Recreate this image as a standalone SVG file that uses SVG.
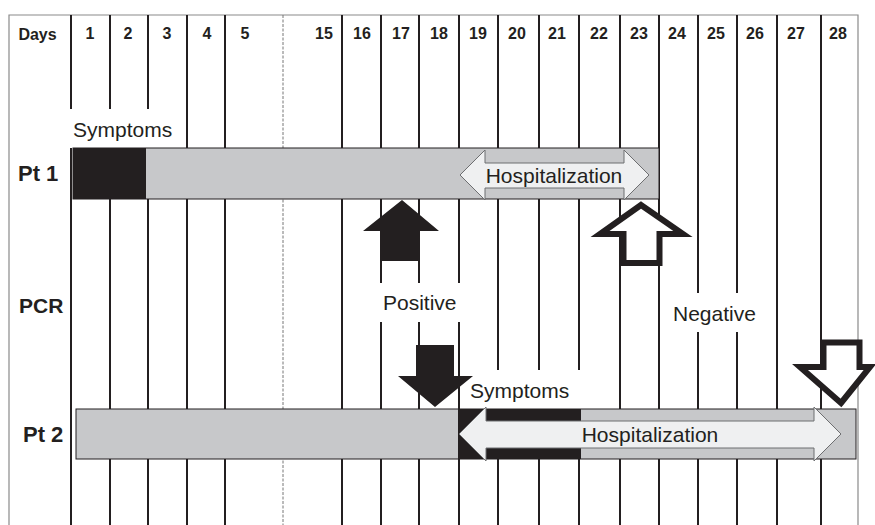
<svg xmlns="http://www.w3.org/2000/svg" width="875" height="525" viewBox="0 0 875 525">
<style>
.bg{fill:#ffffff}
.frame{stroke:#8a8a8a;stroke-width:1.2;fill:none}
.grid{stroke:#231f20;stroke-width:2;fill:none}
.dash{stroke:#777;stroke-width:1;stroke-dasharray:3,1.5;fill:none}
.bar{fill:#c7c8ca;stroke:#231f20;stroke-width:1}
.blk{fill:#231f20}
.harrow{fill:#eff0f1;stroke:#6d6e70;stroke-width:1}
.solid{fill:#231f20}
.hollow{fill:#ffffff;stroke:#231f20;stroke-width:6;stroke-linejoin:miter}
.hdr{font-family:"Liberation Sans",Arial,sans-serif;font-weight:bold;font-size:16px;fill:#231f20;text-anchor:middle}
.row{font-family:"Liberation Sans",Arial,sans-serif;font-weight:bold;font-size:22px;fill:#231f20}
.lbl{font-family:"Liberation Sans",Arial,sans-serif;font-size:21px;fill:#231f20}
</style>
<rect class="bg" x="0" y="0" width="875" height="525"/>
<g id="grid">
<path class="frame" d="M9,525 V15 H858 V525"/>
<path class="grid" d="M71,15 V109 M71,148 V525 M110,15 V109 M110,148 V525 M148,15 V109 M148,148 V525 M187,15 V525 M225,15 V525 M342,15 V525 M381,15 V283 M381,322 V525 M419,15 V283 M419,322 V525 M459,15 V283 M459,322 V525 M498,15 V370 M498,409 V525 M539,15 V370 M539,409 V525 M579,15 V370 M579,409 V525 M620,15 V525 M659,15 V525 M698,15 V293 M698,332 V525 M737,15 V293 M737,332 V525 M777,15 V525 M821,15 V525"/>
<path class="dash" d="M283,15 V525"/>
</g>
<g id="header">
<text class="hdr" x="37.5" y="40">Days</text>
<text class="hdr" x="90" y="39">1</text>
<text class="hdr" x="128" y="39">2</text>
<text class="hdr" x="167" y="39">3</text>
<text class="hdr" x="207" y="39">4</text>
<text class="hdr" x="245" y="39">5</text>
<text class="hdr" x="324" y="39">15</text>
<text class="hdr" x="362" y="39">16</text>
<text class="hdr" x="401" y="39">17</text>
<text class="hdr" x="439" y="39">18</text>
<text class="hdr" x="478" y="39">19</text>
<text class="hdr" x="517" y="39">20</text>
<text class="hdr" x="557" y="39">21</text>
<text class="hdr" x="599" y="39">22</text>
<text class="hdr" x="639" y="39">23</text>
<text class="hdr" x="677" y="39">24</text>
<text class="hdr" x="716" y="39">25</text>
<text class="hdr" x="755" y="39">26</text>
<text class="hdr" x="796" y="39">27</text>
<text class="hdr" x="838" y="39">28</text>
</g>
<g id="pt1">
<text class="row" x="18" y="181">Pt 1</text>
<text class="lbl" x="73" y="137">Symptoms</text>
<rect class="bar" x="73" y="148" width="586" height="51"/>
<rect class="blk" x="73" y="148" width="73" height="51"/>
<path class="harrow" d="M460,175 L485,150 V163 H624 V150 L649,175 L624,200 V188 H485 V200 Z"/>
<text class="lbl" x="554" y="183" text-anchor="middle">Hospitalization</text>
</g>
<g id="pcr">
<text class="row" x="19" y="313" style="font-size:21px">PCR</text>
<text class="lbl" x="383" y="310">Positive</text>
<text class="lbl" x="673" y="321">Negative</text>
</g>
<g id="pt2">
<text class="row" x="23" y="442">Pt 2</text>
<text class="lbl" x="470" y="398">Symptoms</text>
<rect class="bar" x="76" y="409" width="780" height="50"/>
<rect class="blk" x="458" y="409" width="123" height="50"/>
<path class="harrow" d="M459,434 L486,407 V421 H814 V407 L841,434 L814,461 V448 H486 V461 Z"/>
<text class="lbl" x="650" y="442" text-anchor="middle">Hospitalization</text>
</g>
<g id="connectors">
<path class="solid" d="M402,200 L439,231 H419 V261 H382 V231 H363 Z"/>
<path class="hollow" d="M641,205 L683,234 H659.5 V263 H623.5 V234 H600 Z"/>
<path class="solid" d="M435,407 L473,376 H454 V345 H416 V376 H398 Z"/>
<path class="hollow" d="M841,403 L870,367 H859.5 V342.5 H823.5 V367 H800 Z"/>
</g>
</svg>
